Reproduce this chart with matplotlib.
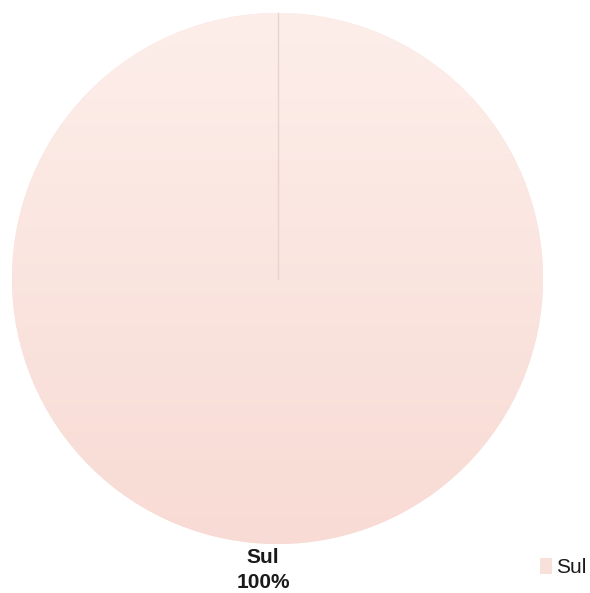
import numpy as np
import matplotlib.pyplot as plt
from matplotlib.colors import LinearSegmentedColormap

plt.rcParams["font.family"] = ["Liberation Sans", "DejaVu Sans"]

labels = ["Sul"]
values = [100]

TOP_COLOR = "#FDEEEA"
BOTTOM_COLOR = "#F8DBD4"


def main():
    fig = plt.figure(figsize=(5.90, 5.93), dpi=100)
    ax = fig.add_axes([0, 0, 1, 1])

    cx, cy, r = 277.5, 278.5, 265.5
    wedges, _ = ax.pie(values, center=(cx, cy), radius=r, startangle=90,
                       counterclock=False, colors=["#F9E1DB"],
                       wedgeprops=dict(edgecolor="none"))

    # vertical gradient fill clipped to the pie
    grad = np.linspace(0, 1, 256).reshape(-1, 1)
    cmap = LinearSegmentedColormap.from_list("pinkgrad", [TOP_COLOR, BOTTOM_COLOR])
    img = ax.imshow(grad, cmap=cmap, aspect="auto",
                    extent=(cx - r, cx + r, cy + r, cy - r), zorder=2)
    img.set_clip_path(wedges[0])

    # seam of the single slice, from 12 o'clock to centre
    ax.plot([cx, cx], [cy - r, cy], color="#EBD3CD", lw=1.0, zorder=3)

    pct = values[0] / sum(values) * 100
    ax.text(263, 570, f"{labels[0]}\n{pct:.0f}%", ha="center", va="center",
            fontsize=15, fontweight="bold", color="#1a1a1a", linespacing=1.35)

    ax.legend(wedges, labels, loc="lower right", bbox_to_anchor=(1.004, 0.016),
              frameon=False, fontsize=15, handlelength=0.55, handleheight=0.75,
              handletextpad=0.2, borderaxespad=0.0, borderpad=0.3,
              labelcolor="#1a1a1a")

    ax.set_xlim(0, 590)
    ax.set_ylim(593, 0)
    ax.set_aspect("auto")
    ax.axis("off")

    fig.savefig("out.png", dpi=100, facecolor="white")


if __name__ == "__main__":
    main()
